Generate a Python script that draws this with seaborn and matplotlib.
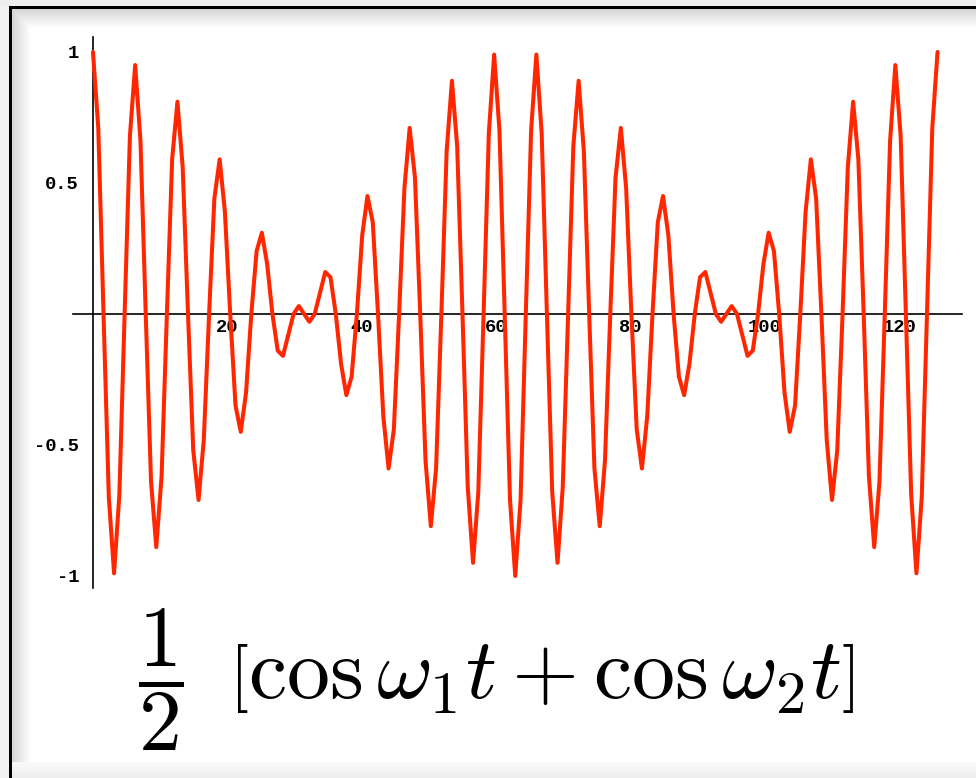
import numpy as np
import matplotlib
matplotlib.use("Agg")
import matplotlib.pyplot as plt
import seaborn as sns

# curve samples (t, amplitude)
t_vals = [
    0.00, 0.79, 1.57, 2.36, 3.14, 3.93, 4.71, 5.50, 6.28, 7.07, 7.85, 8.64, 9.42, 10.21, 11.00, 11.78,
    12.57, 13.35, 14.14, 14.92, 15.71, 16.49, 17.28, 18.06, 18.85, 19.63, 20.42, 21.21, 21.99, 22.78, 23.56, 24.35,
    25.13, 25.92, 26.70, 27.49, 28.27, 29.06, 29.85, 30.63, 31.42, 32.20, 32.99, 33.77, 34.56, 35.34, 36.13, 36.91,
    37.70, 38.48, 39.27, 40.06, 40.84, 41.63, 42.41, 43.20, 43.98, 44.77, 45.55, 46.34, 47.12, 47.91, 48.69, 49.48,
    50.27, 51.05, 51.84, 52.62, 53.41, 54.19, 54.98, 55.76, 56.55, 57.33, 58.12, 58.90, 59.69, 60.48, 61.26, 62.05,
    62.83, 63.62, 64.40, 65.19, 65.97, 66.76, 67.54, 68.33, 69.12, 69.90, 70.69, 71.47, 72.26, 73.04, 73.83, 74.61,
    75.40, 76.18, 76.97, 77.75, 78.54, 79.33, 80.11, 80.90, 81.68, 82.47, 83.25, 84.04, 84.82, 85.61, 86.39, 87.18,
    87.96, 88.75, 89.54, 90.32, 91.11, 91.89, 92.68, 93.46, 94.25, 95.03, 95.82, 96.60, 97.39, 98.17, 98.96, 99.75,
    100.53, 101.32, 102.10, 102.89, 103.67, 104.46, 105.24, 106.03, 106.81, 107.60, 108.38, 109.17, 109.96, 110.74,
    111.53, 112.31, 113.10, 113.88, 114.67, 115.45, 116.24, 117.02, 117.81, 118.60, 119.38, 120.17, 120.95, 121.74,
    122.52, 123.31, 124.09, 124.88, 125.66,
]
y_vals = [
    1.00, 0.71, 0, -0.70, -0.99, -0.69, 0, 0.68,
    0.95, 0.66, 0, -0.64, -0.89, -0.62, 0, 0.59,
    0.81, 0.56, 0, -0.52, -0.71, -0.48, 0, 0.44,
    0.59, 0.39, 0, -0.35, -0.45, -0.30, 0, 0.24,
    0.31, 0.19, 0, -0.14, -0.16, -0.08, 0, 0.03,
    0.00, -0.03, 0, 0.08, 0.16, 0.14, 0, -0.19,
    -0.31, -0.24, 0, 0.30, 0.45, 0.35, 0, -0.39,
    -0.59, -0.44, 0, 0.48, 0.71, 0.52, 0, -0.56,
    -0.81, -0.59, 0, 0.62, 0.89, 0.64, 0, -0.66,
    -0.95, -0.68, 0, 0.69, 0.99, 0.70, 0, -0.71,
    -1.00,
    -0.71, 0, 0.70, 0.99, 0.69, 0, -0.68, -0.95,
    -0.66, 0, 0.64, 0.89, 0.62, 0, -0.59, -0.81,
    -0.56, 0, 0.52, 0.71, 0.48, 0, -0.44, -0.59,
    -0.39, 0, 0.35, 0.45, 0.30, 0, -0.24, -0.31,
    -0.19, 0, 0.14, 0.16, 0.08, 0, -0.03, 0.00,
    0.03, 0, -0.08, -0.16, -0.14, 0, 0.19, 0.31,
    0.24, 0, -0.30, -0.45, -0.35, 0, 0.39, 0.59,
    0.44, 0, -0.48, -0.71, -0.52, 0, 0.56, 0.81,
    0.59, 0, -0.62, -0.89, -0.64, 0, 0.66, 0.95,
    0.68, 0, -0.69, -0.99, -0.70, 0, 0.71, 1.00,
]

x_ticks = [20, 40, 60, 80, 100, 120]
x_labels = ["20", "40", "60", "80", "100", "120"]
y_ticks = [-1, -0.5, 0.5, 1]
y_labels = ["-1", "-0.5", "0.5", "1"]

formula = r"$\dfrac{1}{2}\ \,\left[\cos\omega_1 t+\cos\omega_2 t\right]$"

sns.set_theme(style="white")
plt.rcParams["mathtext.fontset"] = "cm"
plt.rcParams["font.family"] = ["DejaVu Sans"]

W, H = 976, 778
fig = plt.figure(figsize=(W / 100, H / 100), dpi=100)

# background: grey page, black frame, soft shadow, white sheet
yy, xx = np.mgrid[0:H, 0:W]
img = np.full((H, W), 0.95)
inside = (xx >= 12) & (yy >= 9)
shade = np.minimum(np.clip((xx - 12) / 18, 0, 1), np.clip((yy - 9) / 18, 0, 1))
img[inside] = (0.84 + 0.16 * shade)[inside]
img[(yy < 6)] = 0.94
img[(yy >= 6) & (yy < 9) & (xx >= 9)] = 0.0
img[(xx >= 9) & (xx < 12) & (yy >= 6)] = 0.0
bottom = (yy >= 762) & (xx >= 12)
img[bottom] = (0.98 - 0.05 * np.clip((yy - 762) / 16, 0, 1))[bottom]
bg = fig.add_axes([0, 0, 1, 1], zorder=0)
bg.imshow(np.dstack([img] * 3), aspect="auto", interpolation="nearest")
bg.axis("off")

# plot axes, pixel-matched
x0, x1, ypx_top, ypx_bot = 72.8, 962, 37, 588
ax = fig.add_axes([x0 / W, 1 - ypx_bot / H, (x1 - x0) / W, (ypx_bot - ypx_top) / H], zorder=1)
ax.patch.set_alpha(0)

sns.lineplot(x=t_vals, y=y_vals, ax=ax, color="#ff2600", linewidth=2.9,
             sort=False, estimator=None, zorder=3)

ax.set_xlim(-3.0, 129.3)
ax.set_ylim(-1.046, 1.057)

for s in ["top", "right"]:
    ax.spines[s].set_visible(False)
for s in ["left", "bottom"]:
    ax.spines[s].set_position(("data", 0))
    ax.spines[s].set_color("black")
    ax.spines[s].set_linewidth(1.2)

ax.set_xticks(x_ticks)
ax.set_xticklabels(x_labels)
ax.set_yticks(y_ticks)
ax.set_yticklabels(y_labels)
ax.set_xticks([v for v in range(5, 130, 5) if v not in x_ticks], minor=True)
ax.set_yticks([round(v / 10, 1) for v in range(-9, 10) if v % 5 != 0], minor=True)

ax.tick_params(which="both", direction="in", color="black", width=1)
ax.tick_params(which="major", length=4)
ax.tick_params(which="minor", length=2.5)
ax.tick_params(axis="y", which="major", pad=10)
ax.tick_params(axis="x", which="major", pad=4)
for lab in ax.get_xticklabels() + ax.get_yticklabels():
    lab.set_family(["Liberation Mono", "DejaVu Sans"])
    lab.set_fontsize(13.5)
    lab.set_fontweight("bold")
    lab.set_color("black")
ax.set_xlabel("")
ax.set_ylabel("")
ax.grid(False)

fig.text(138 / W, 1 - 680 / H, formula, fontsize=62, ha="left", va="center", color="black")

fig.savefig("out.png", dpi=100)
